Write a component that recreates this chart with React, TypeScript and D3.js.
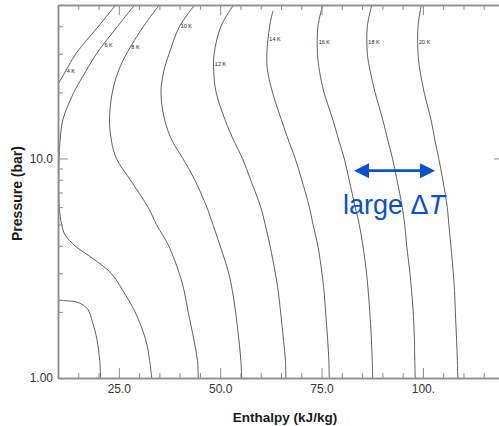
import React, { useEffect, useRef } from 'react';
import * as d3 from 'd3';

// isotherm temperatures
const temps = ['4 K', '6 K', '8 K', '10 K', '12 K', '14 K', '16 K', '18 K', '20 K'];

// pressure levels (bar) used by most isotherms
const pLevels = [50, 40, 30, 25, 20, 15, 12, 10, 8, 6, 5, 4, 3, 2.5, 2, 1.5, 1.2, 1];
const pLevels14 = [47, 40, 30, 25, 20, 15, 12, 10, 8, 6, 5, 4, 3, 2.5, 2, 1.5, 1.2, 1];
const pLevels6 = [50, 40, 30, 25, 20, 15, 12, 10, 8, 6, 5, 4.5, 4, 3.5, 3, 2.5, 2, 1.5, 1.2, 1];
const pLevels4hi = [50, 40, 30, 25, 20];
const pLevels4lo = [2.27, 2.25, 2.22, 2.15, 2.05, 1.8, 1.5, 1.2, 1];

// enthalpy (kJ/kg) of each isotherm at those pressures
const h4hi = [24.2, 20.0, 14.4, 11.9, 8.8];
const h4lo = [9.5, 11.7, 14.6, 16.2, 17.4, 18.5, 19.6, 20.3, 20.5];
const h6 = [28.9, 24.7, 19.5, 16.9, 13.9, 11.2, 10.5, 10.25, 10.17, 10.3, 10.9, 11.7, 14.2, 18.6, 23.1, 26.0, 29.0, 31.6, 32.6, 33.1];
const h8 = [35.0, 31.1, 26.9, 24.9, 23.4, 22.7, 23.2, 24.4, 27.8, 32.2, 34.3, 37.3, 39.9, 41.1, 42.1, 43.5, 44.4, 44.6];
const h10 = [43.7, 40.0, 37.4, 36.1, 35.4, 36.3, 38.2, 40.8, 43.7, 46.7, 48.2, 50.0, 52.1, 53.0, 53.8, 54.6, 55.1, 55.3];
const h12 = [53.3, 50.2, 48.5, 48.4, 49.0, 51.2, 53.4, 55.5, 57.5, 60.0, 61.1, 62.3, 63.6, 64.3, 64.9, 65.6, 66.1, 66.2];
const h14 = [63.0, 62.2, 61.5, 61.7, 62.9, 65.1, 66.9, 68.5, 70.1, 72.0, 72.9, 74.1, 75.1, 75.6, 76.0, 76.5, 76.8, 76.9];
const h16 = [75.3, 74.1, 74.0, 74.5, 75.6, 77.8, 79.3, 80.6, 81.8, 83.3, 84.3, 85.2, 86.1, 86.5, 86.9, 87.3, 87.5, 87.6];
const h18 = [87.4, 86.3, 86.3, 87.0, 88.2, 90.1, 91.4, 92.5, 93.6, 94.9, 95.5, 96.0, 96.8, 97.2, 97.6, 97.9, 98.0, 98.1];
const h20 = [99.6, 98.8, 98.8, 99.3, 100.3, 102.0, 103.0, 103.9, 104.9, 106.0, 106.4, 106.9, 107.5, 107.8, 108.0, 108.3, 108.5, 108.6];

// pressure where each isotherm's label sits
const labelPressures = [25, 33, 32, 40, 27, 35, 34, 34, 34];

const xMajor = [25, 50, 75, 100];
const xTickLabels = ['25.0', '50.0', '75.0', '100.'];
const xMinor = d3.range(10, 121, 5).filter(v => !xMajor.includes(v));
const yMajor = [1, 10];
const yTickLabels = ['1.00', '10.0'];
const yMinor = [2, 3, 4, 5, 6, 7, 8, 9, 20, 30, 40];

// annotation
const arrowFrom = 83, arrowTo = 103, arrowP = 8.8;
const noteH = 80.3, noteP = 5.6;

const W = 499, H = 426;
const margin = { top: 5, right: -5, bottom: 48, left: 58 };

const zip = (p: number[], h: number[]) => p.map((v, i) => ({ p: v, h: h[i] }));

const App = () => {
  const ref = useRef<SVGSVGElement>(null);

  useEffect(() => {
    const svg = d3.select(ref.current);
    svg.selectAll('*').remove();

    const x = d3.scaleLinear().domain([10, 120]).range([margin.left, W - margin.right]);
    const y = d3.scaleLog().domain([1, 50]).range([H - margin.bottom, margin.top]);

    const curves = [
      { name: temps[0], segs: [zip(pLevels4hi, h4hi), zip(pLevels4lo, h4lo)] },
      { name: temps[1], segs: [zip(pLevels6, h6)] },
      { name: temps[2], segs: [zip(pLevels, h8)] },
      { name: temps[3], segs: [zip(pLevels, h10)] },
      { name: temps[4], segs: [zip(pLevels, h12)] },
      { name: temps[5], segs: [zip(pLevels14, h14)] },
      { name: temps[6], segs: [zip(pLevels, h16)] },
      { name: temps[7], segs: [zip(pLevels, h18)] },
      { name: temps[8], segs: [zip(pLevels, h20)] },
    ];

    svg.append('clipPath').attr('id', 'plot-clip')
      .append('rect')
      .attr('x', margin.left).attr('y', margin.top)
      .attr('width', W - margin.right - margin.left)
      .attr('height', H - margin.bottom - margin.top);

    const line = d3.line<{ p: number; h: number }>()
      .x(d => x(d.h))
      .y(d => y(d.p))
      .curve(d3.curveCatmullRom.alpha(0.5));

    const g = svg.append('g').attr('clip-path', 'url(#plot-clip)');
    curves.forEach(c => {
      c.segs.forEach(s => {
        g.append('path')
          .attr('d', line(s))
          .attr('fill', 'none')
          .attr('stroke', '#606060')
          .attr('stroke-width', 1);
      });
    });

    // curve labels
    curves.forEach((c, i) => {
      const lp = labelPressures[i];
      const s = c.segs[0];
      let hx = s[0].h;
      for (let k = 0; k < s.length - 1; k++) {
        const a = s[k], b = s[k + 1];
        if ((a.p - lp) * (b.p - lp) <= 0) {
          const t = (Math.log(lp) - Math.log(a.p)) / (Math.log(b.p) - Math.log(a.p));
          hx = a.h + t * (b.h - a.h);
          break;
        }
      }
      svg.append('text')
        .attr('x', x(hx) + 1)
        .attr('y', y(lp))
        .attr('dy', '0.35em')
        .attr('font-family', 'Liberation Sans, Arial, sans-serif')
        .attr('font-size', 5.5)
        .attr('fill', '#222')
        .text(c.name);
    });

    const axisColor = '#8c8c8c';
    const styleAxis = (sel: any) => {
      sel.selectAll('.domain').attr('stroke', axisColor).attr('stroke-width', 1.5);
      sel.selectAll('.tick line').attr('stroke', axisColor).attr('stroke-width', 1);
      sel.selectAll('.tick text')
        .attr('fill', '#333')
        .attr('font-family', 'Liberation Sans, Arial, sans-serif')
        .attr('font-size', 12);
    };

    const bottom = H - margin.bottom;
    const right = W - margin.right;

    // bottom axis
    svg.append('g').attr('transform', `translate(0,${bottom})`)
      .call(d3.axisBottom(x).tickValues(xMinor).tickSize(-5).tickSizeOuter(0).tickFormat(() => ''))
      .call(styleAxis);
    svg.append('g').attr('transform', `translate(0,${bottom})`)
      .call(d3.axisBottom(x).tickValues(xMajor).tickSize(-10).tickSizeOuter(0).tickPadding(6.5)
        .tickFormat((d, i) => xTickLabels[i]))
      .call(styleAxis);

    // top axis
    svg.append('g').attr('transform', `translate(0,${margin.top})`)
      .call(d3.axisTop(x).tickValues(xMinor).tickSize(-5).tickSizeOuter(0).tickFormat(() => ''))
      .call(styleAxis);
    svg.append('g').attr('transform', `translate(0,${margin.top})`)
      .call(d3.axisTop(x).tickValues(xMajor).tickSize(-10).tickSizeOuter(0).tickFormat(() => ''))
      .call(styleAxis);

    // left axis
    svg.append('g').attr('transform', `translate(${margin.left},0)`)
      .call(d3.axisLeft(y).tickValues(yMinor).tickSize(-5).tickSizeOuter(0).tickFormat(() => ''))
      .call(styleAxis);
    svg.append('g').attr('transform', `translate(${margin.left},0)`)
      .call(d3.axisLeft(y).tickValues(yMajor).tickSize(-10).tickSizeOuter(0).tickPadding(5)
        .tickFormat((d, i) => yTickLabels[i]))
      .call(styleAxis);

    // right axis
    svg.append('g').attr('transform', `translate(${right},0)`)
      .call(d3.axisRight(y).tickValues(yMajor).tickSize(-10).tickSizeOuter(0).tickFormat(() => ''))
      .call(styleAxis);

    // axis titles
    svg.append('text')
      .attr('transform', `translate(17.5,${(margin.top + bottom) / 2 + 2}) rotate(-90)`)
      .attr('text-anchor', 'middle')
      .attr('dy', '0.35em')
      .attr('font-family', 'Liberation Sans, Arial, sans-serif')
      .attr('font-weight', 'bold')
      .attr('font-size', 14)
      .attr('fill', '#1a1a1a')
      .text('Pressure (bar)');

    svg.append('text')
      .attr('x', 285)
      .attr('y', H - 4.5)
      .attr('text-anchor', 'middle')
      .attr('font-family', 'Liberation Sans, Arial, sans-serif')
      .attr('font-weight', 'bold')
      .attr('font-size', 13.5)
      .attr('fill', '#1a1a1a')
      .text('Enthalpy (kJ/kg)');

    // annotation: double arrow
    const blue = '#0b4fd0';
    const ay = y(arrowP);
    const x1 = x(arrowFrom), x2 = x(arrowTo);
    const headL = 15, headW = 7.5;
    svg.append('line')
      .attr('x1', x1 + headL - 1).attr('x2', x2 - headL + 1)
      .attr('y1', ay).attr('y2', ay)
      .attr('stroke', blue)
      .attr('stroke-width', 2.7);
    svg.append('path')
      .attr('d', `M${x1},${ay} L${x1 + headL},${ay - headW} L${x1 + headL},${ay + headW} Z`)
      .attr('fill', blue);
    svg.append('path')
      .attr('d', `M${x2},${ay} L${x2 - headL},${ay - headW} L${x2 - headL},${ay + headW} Z`)
      .attr('fill', blue);

    const note = svg.append('text')
      .attr('x', x(noteH))
      .attr('y', y(noteP))
      .attr('font-family', 'Liberation Sans, Arial, sans-serif')
      .attr('font-size', 27)
      .attr('fill', blue);
    note.append('tspan').text('large \u0394');
    note.append('tspan').attr('font-style', 'italic').text('T');
  }, []);

  return (
    <svg ref={ref} width={W} height={H}
      style={{ position: 'absolute', left: 0, top: 0, background: '#fff' }} />
  );
};

export default App;
